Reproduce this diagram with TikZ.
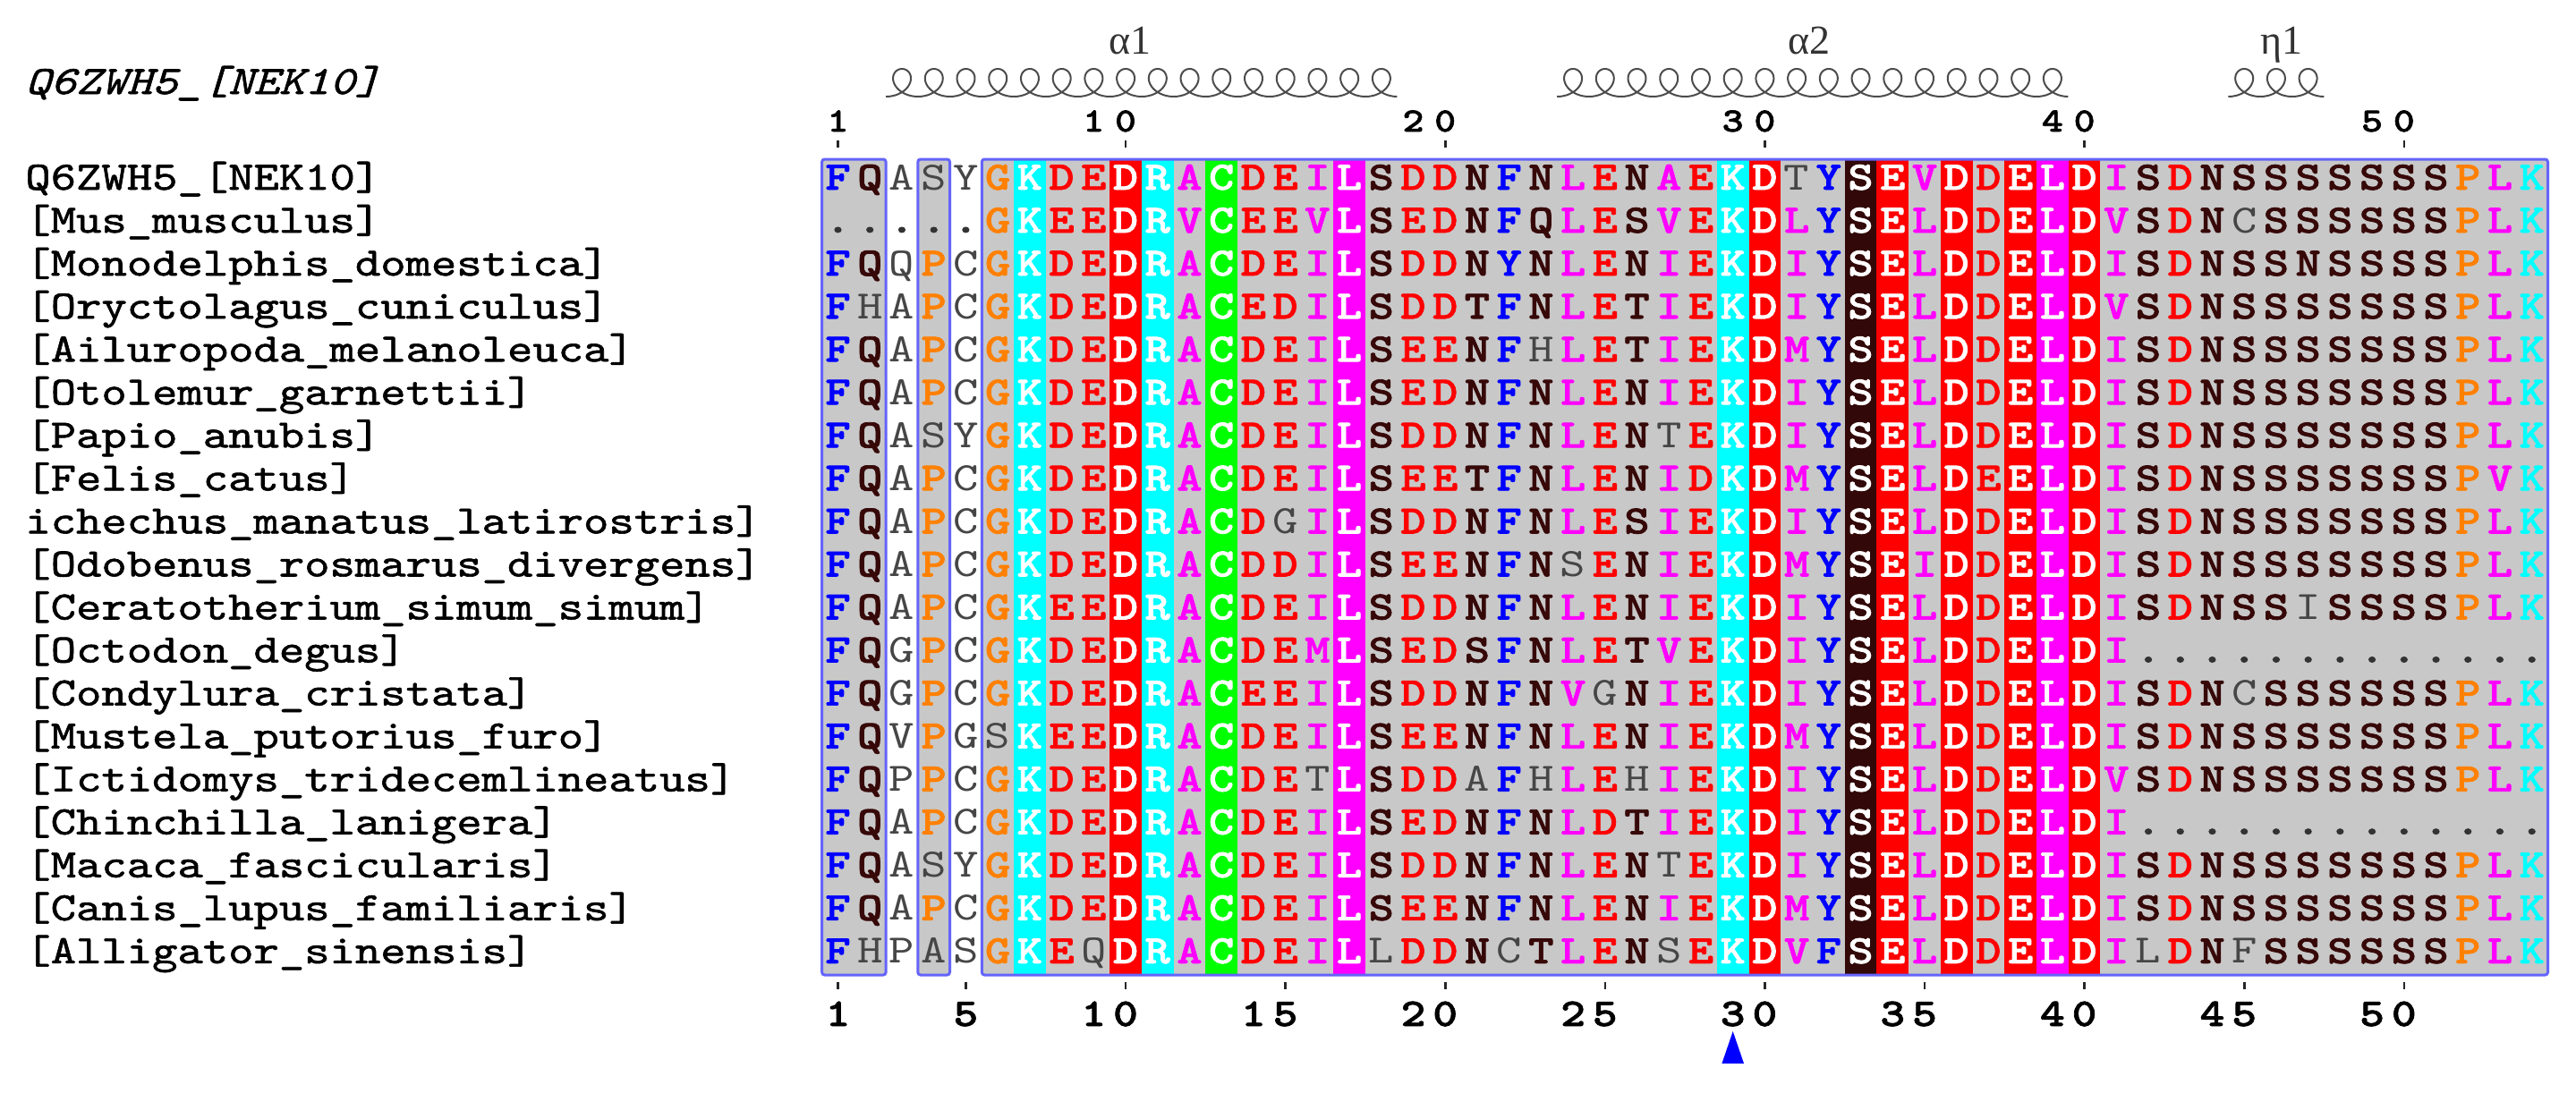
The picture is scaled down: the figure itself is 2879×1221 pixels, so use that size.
\documentclass[tikz,border=0pt]{standalone}
\usepackage{fontspec}
\newfontfamily\seqfont{lmmono10-regular.otf}[BoldFont=lmmonolt10-bold.otf,BoldFeatures={FakeBold=1.6},ItalicFont=lmmono10-italic.otf,FakeStretch=1.2]
\newfontfamily\namefont{lmmono10-regular.otf}[ItalicFont=lmmono10-italic.otf,FakeStretch=1.2,FakeBold=1.3]
\newfontfamily\grkfont{Liberation Serif}
\newcommand\SF{\seqfont\fontsize{22.5}{27}\selectfont}
\newcommand\NF{\namefont\fontsize{22.5}{27}\selectfont}
\definecolor{boxgray}{RGB}{200,200,200}
\definecolor{boxblue}{RGB}{100,100,250}
\definecolor{rblue}{RGB}{0,0,255}
\definecolor{rred}{RGB}{255,0,0}
\definecolor{rcyan}{RGB}{0,255,255}
\definecolor{rorange}{RGB}{255,128,0}
\definecolor{rmag}{RGB}{255,0,255}
\definecolor{rdark}{RGB}{55,8,8}
\definecolor{rgreen}{RGB}{0,255,0}
\definecolor{thingray}{RGB}{70,70,70}
\definecolor{colbrown}{RGB}{50,8,8}
\tikzset{
  res/.style={anchor=base,inner sep=0pt,outer sep=0pt},
  rb/.style={font=\SF\bfseries,text=rblue},
  rr/.style={font=\SF\bfseries,text=rred},
  rc/.style={font=\SF\bfseries,text=rcyan},
  ro/.style={font=\SF\bfseries,text=rorange},
  rm/.style={font=\SF\bfseries,text=rmag},
  rd/.style={font=\SF\bfseries,text=rdark},
  rg/.style={font=\SF\bfseries,text=rgreen},
  thinres/.style={font=\SF,text=thingray},
  dotres/.style={font=\SF\bfseries,text=black!80},
  hlt/.style={font=\SF\bfseries,text=white},
  namestyle/.style={font=\NF,text=black,anchor=base west,inner sep=0pt},
  boxline/.style={draw=boxblue,line width=1.5pt,rounded corners=1.5pt},
  helixline/.style={draw=black!70,line width=1pt},
  tickmark/.style={fill=black!85},
  topnum/.style={res,font=\seqfont\fontsize{19}{22}\selectfont\bfseries,text=black},
  botnum/.style={res,font=\seqfont\fontsize{22}{26}\selectfont\bfseries,text=black},
  sslabel/.style={anchor=base,inner sep=0pt,font=\grkfont\fontsize{23}{27}\selectfont,text=black!80},
}
\newcount\colidx
\def\defres#1#2#3{\expandafter\def\csname rs@#1\endcsname{#2}\expandafter\def\csname rt@#1\endcsname{#3}}
\defres{F}{rb}{F}\defres{Y}{rb}{Y}
\defres{D}{rr}{D}\defres{E}{rr}{E}
\defres{K}{rc}{K}\defres{R}{rc}{R}
\defres{G}{ro}{G}\defres{P}{ro}{P}
\defres{A}{rm}{A}\defres{V}{rm}{V}\defres{L}{rm}{L}\defres{I}{rm}{I}\defres{M}{rm}{M}
\defres{S}{rd}{S}\defres{T}{rd}{T}\defres{N}{rd}{N}\defres{Q}{rd}{Q}\defres{H}{rd}{H}
\defres{C}{rg}{C}
\defres{a}{thinres}{A}\defres{c}{thinres}{C}\defres{f}{thinres}{F}\defres{g}{thinres}{G}
\defres{h}{thinres}{H}\defres{i}{thinres}{I}\defres{l}{thinres}{L}\defres{p}{thinres}{P}
\defres{q}{thinres}{Q}\defres{s}{thinres}{S}\defres{t}{thinres}{T}\defres{v}{thinres}{V}
\defres{y}{thinres}{Y}
\defres{.}{dotres}{.}
\def\sethl#1{\expandafter\def\csname hl@#1\endcsname{}}
\sethl{7}\sethl{10}\sethl{11}\sethl{13}\sethl{17}\sethl{29}\sethl{30}
\sethl{33}\sethl{34}\sethl{36}\sethl{38}\sethl{39}\sethl{40}
\def\placeres#1{%
  \ifcsname hl@\the\colidx\endcsname\def\resst{hlt}\else\edef\resst{\csname rs@#1\endcsname}\fi
  \edef\resname{r\currow c\the\colidx}%
  \node[res,\resst] (\resname) at ({936.5+(\the\colidx-1)*35.72},{212+(\currow-1)*48.05}) {\csname rt@#1\endcsname};}
\def\doseq#1{\ifx#1\relax\else\advance\colidx by 1 \placeres{#1}\expandafter\doseq\fi}
\newcommand\seqrow[3]{%
  \def\currow{#1}%
  \node[namestyle] (name#1) at (28,{212+(#1-1)*48.05}) {#2};
  \colidx=0
  \doseq#3\relax}
\begin{document}
\begin{tikzpicture}[x=0.5pt,y=-0.5pt]
\useasboundingbox (0,0) rectangle (2879,1221);
\fill[white] (0,0) rectangle (2879,1221);
% title
\node[namestyle,font=\NF\itshape] (title) at (28,105) {Q6ZWH5\_[NEK10]};
% secondary structure
\draw[helixline] plot[domain=0:100.531,samples=961,variable=\x] ({990.2+5.6851*\x+18*sin(\x r)},{108-15.5*(1-cos(\x r))});
\draw[helixline] plot[domain=0:100.531,samples=961,variable=\x] ({1740.2+5.6851*\x+18*sin(\x r)},{108-15.5*(1-cos(\x r))});
\draw[helixline] plot[domain=0:18.85,samples=200,variable=\x] ({2490.3+5.6851*\x+18*sin(\x r)},{108-15.5*(1-cos(\x r))});
\node[sslabel] (la1) at (1263,60) {α1};
\node[sslabel] (la2) at (2022,60) {α2};
\node[sslabel] (le1) at (2550,60) {η1};
% top numbering
\foreach \c/\d in {1/1,9/1,10/0,19/2,20/0,29/3,30/0,39/4,40/0,49/5,50/0}
  \node[topnum] (tn\c) at ({936.5+(\c-1)*35.72},147) {\d};
\foreach \c in {1,10,20,30,40,50}
  \fill[tickmark] ({936.5+(\c-1)*35.72-1.3},157) rectangle ({936.5+(\c-1)*35.72+1.3},165);
% boxes
\fill[boxgray] (918.6,178) rectangle (990.1,1090);
\fill[boxgray] (1025.8,178) rectangle (1061.5,1090);
\fill[boxgray] (1097.3,178) rectangle (2847.5,1090);
\foreach \c/\col in {7/rcyan,10/rred,11/rcyan,13/rgreen,17/rmag,29/rcyan,30/rred,33/colbrown,34/rred,36/rred,38/rred,39/rmag,40/rred}
  \fill[\col] ({936.5+(\c-1)*35.72-17.86},178) rectangle ({936.5+(\c-1)*35.72+17.86},1090);
\draw[boxline] (918.6,178) rectangle (990.1,1090);
\draw[boxline] (1025.8,178) rectangle (1061.5,1090);
\draw[boxline] (1097.3,178) rectangle (2847.5,1090);
% rows
\seqrow{1}{Q6ZWH5\_[NEK10]}{FQasyGKDEDRACDEILSDDNFNLENAEKDtYSEVDDELDISDNSSSSSSSPLK}
\seqrow{2}{[Mus\_musculus]}{.....GKEEDRVCEEVLSEDNFQLESVEKDLYSELDDELDVSDNcSSSSSSPLK}
\seqrow{3}{[Monodelphis\_domestica]}{FQqPcGKDEDRACDEILSDDNYNLENIEKDIYSELDDELDISDNSSNSSSSPLK}
\seqrow{4}{[Oryctolagus\_cuniculus]}{FhaPcGKDEDRACEDILSDDTFNLETIEKDIYSELDDELDVSDNSSSSSSSPLK}
\seqrow{5}{[Ailuropoda\_melanoleuca]}{FQaPcGKDEDRACDEILSEENFhLETIEKDMYSELDDELDISDNSSSSSSSPLK}
\seqrow{6}{[Otolemur\_garnettii]}{FQaPcGKDEDRACDEILSEDNFNLENIEKDIYSELDDELDISDNSSSSSSSPLK}
\seqrow{7}{[Papio\_anubis]}{FQasyGKDEDRACDEILSDDNFNLENtEKDIYSELDDELDISDNSSSSSSSPLK}
\seqrow{8}{[Felis\_catus]}{FQaPcGKDEDRACDEILSEETFNLENIDKDMYSELDEELDISDNSSSSSSSPVK}
\seqrow{9}{ichechus\_manatus\_latirostris]}{FQaPcGKDEDRACDgILSDDNFNLESIEKDIYSELDDELDISDNSSSSSSSPLK}
\seqrow{10}{[Odobenus\_rosmarus\_divergens]}{FQaPcGKDEDRACDDILSEENFNsENIEKDMYSEIDDELDISDNSSSSSSSPLK}
\seqrow{11}{[Ceratotherium\_simum\_simum]}{FQaPcGKEEDRACDEILSDDNFNLENIEKDIYSELDDELDISDNSSiSSSSPLK}
\seqrow{12}{[Octodon\_degus]}{FQgPcGKDEDRACDEMLSEDSFNLETVEKDIYSELDDELDI.............}
\seqrow{13}{[Condylura\_cristata]}{FQgPcGKDEDRACEEILSDDNFNVgNIEKDIYSELDDELDISDNcSSSSSSPLK}
\seqrow{14}{[Mustela\_putorius\_furo]}{FQvPgsKEEDRACDEILSEENFNLENIEKDMYSELDDELDISDNSSSSSSSPLK}
\seqrow{15}{[Ictidomys\_tridecemlineatus]}{FQpPcGKDEDRACDEtLSDDaFhLEhIEKDIYSELDDELDVSDNSSSSSSSPLK}
\seqrow{16}{[Chinchilla\_lanigera]}{FQaPcGKDEDRACDEILSEDNFNLDTIEKDIYSELDDELDI.............}
\seqrow{17}{[Macaca\_fascicularis]}{FQasyGKDEDRACDEILSDDNFNLENtEKDIYSELDDELDISDNSSSSSSSPLK}
\seqrow{18}{[Canis\_lupus\_familiaris]}{FQaPcGKDEDRACDEILSEENFNLENIEKDMYSELDDELDISDNSSSSSSSPLK}
\seqrow{19}{[Alligator\_sinensis]}{FhpasGKEqDRACDEILlDDNcTLENsEKDVFSELDDELDIlDNfSSSSSSPLK}
% bottom numbering
\foreach \c in {1,5,10,15,20,25,30,35,40,45,50}
  \fill[tickmark] ({936.5+(\c-1)*35.72-1.3},1098) rectangle ({936.5+(\c-1)*35.72+1.3},1106);
\foreach \c/\d in {1/1,5/5,9/1,10/0,14/1,15/5,19/2,20/0,24/2,25/5,29/3,30/0,34/3,35/5,39/4,40/0,44/4,45/5,49/5,50/0}
  \node[botnum] (bn\c) at ({936.5+(\c-1)*35.72},1147) {\d};
% marker
\fill[rblue] (1936.7,1153) -- (1949,1189) -- (1924.4,1189) -- cycle;
\end{tikzpicture}
\end{document}
